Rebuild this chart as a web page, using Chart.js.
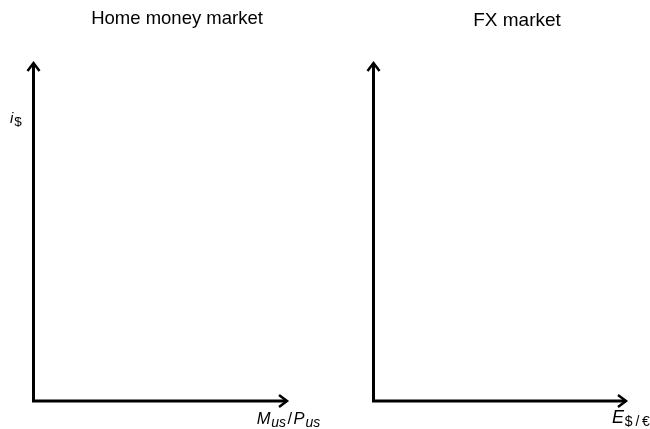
<!DOCTYPE html>
<html>
<head>
<meta charset="utf-8">
<script src="https://cdn.jsdelivr.net/npm/chart.js@4.4.1/dist/chart.umd.min.js"></script>
<style>
  html, body { margin:0; padding:0; background:#fff; width:650px; height:429px; overflow:hidden; position:relative; }
  canvas { position:absolute; top:0; }
</style>
</head>
<body>
<canvas id="c1" width="354" height="429" style="left:0px"></canvas>
<canvas id="c2" width="334" height="429" style="left:350px"></canvas>
<script>
// ---- chart content ----
const panelTitles = ["Home money market", "FX market"];
// label segments: [text, kind]  kind 0 = italic, 1 = italic subscript, 2 = upright operator, 3 = upright subscript
const xAxisLabels = [
  [["M",0],["us",1],["/",2],["P",0],["us",1]],
  [["E",0],["$\u2009/\u2009€",3]]
];
const yAxisLabels = [
  [["i",0],["$",3]],
  []
];
const xRange = [0, 10];
const yRange = [0, 10];
const seriesValues = [[], []];   // the diagrams are empty axes

const FONT = '"Liberation Sans", Arial, Helvetica, sans-serif';

function drawRich(ctx, segs, x, base, mainSize, subSize, subDrop) {
  let cx = x;
  ctx.textBaseline = 'alphabetic';
  ctx.textAlign = 'left';
  ctx.fillStyle = '#000';
  for (const [t, k] of segs) {
    let size = (k === 1 || k === 3) ? subSize : mainSize;
    let style = (k === 0 || k === 1) ? 'italic ' : '';
    ctx.font = style + size + 'px ' + FONT;
    let y = (k === 1 || k === 3) ? base + subDrop : base;
    if (k === 2) cx += 1.5;
    ctx.fillText(t, cx, y);
    cx += ctx.measureText(t).width;
    if (k === 2) cx += 1.5;
    if (k === 0) cx += 0.8;
  }
}

const axesPlugin = {
  id: 'axesArrows',
  afterDraw(chart, args, opts) {
    const ctx = chart.ctx;
    const xs = chart.scales.x, ys = chart.scales.y;
    const x0 = xs.getPixelForValue(xs.min), x1 = xs.getPixelForValue(xs.max);
    const y0 = ys.getPixelForValue(ys.min), y1 = ys.getPixelForValue(ys.max);
    ctx.save();
    ctx.strokeStyle = '#000';
    ctx.lineWidth = 3;
    ctx.lineJoin = 'miter';
    ctx.lineCap = 'butt';
    ctx.beginPath();
    ctx.moveTo(x0, y1 + 2);
    ctx.lineTo(x0, y0);
    ctx.lineTo(x1 - 2, y0);
    ctx.stroke();
    // arrow heads
    ctx.lineWidth = 2.5;
    ctx.beginPath();
    ctx.moveTo(x0 - 6, y1 + 10);
    ctx.lineTo(x0, y1 + 2);
    ctx.lineTo(x0 + 6, y1 + 10);
    ctx.stroke();
    ctx.beginPath();
    ctx.moveTo(x1 - 10, y0 - 6);
    ctx.lineTo(x1 - 2, y0);
    ctx.lineTo(x1 - 10, y0 + 6);
    ctx.stroke();
    // panel title
    const o = opts;
    ctx.fillStyle = '#000';
    ctx.font = o.titleSize + 'px ' + FONT;
    ctx.textAlign = 'center';
    ctx.textBaseline = 'alphabetic';
    ctx.fillText(o.title, x0 + 143.5, y1 + o.titleDy);
    // axis labels
    if (o.xLabel.length) drawRich(ctx, o.xLabel, x1 + o.xdx, y0 + o.xdy, o.xMain, o.xSub, 3);
    if (o.yLabel.length) drawRich(ctx, o.yLabel, x0 + o.ydx, y1 + o.ydy, 15, 13.5, 3);
    ctx.restore();
  }
};

function makeChart(id, i, geom) {
  return new Chart(document.getElementById(id), {
    type: 'line',
    data: { datasets: [{ data: seriesValues[i] }] },
    plugins: [axesPlugin],
    options: {
      responsive: false,
      animation: false,
      devicePixelRatio: 1,
      layout: { padding: geom.padding },
      scales: {
        x: { type: 'linear', min: xRange[0], max: xRange[1], display: false },
        y: { type: 'linear', min: yRange[0], max: yRange[1], display: false }
      },
      plugins: {
        legend: { display: false },
        tooltip: { enabled: false },
        title: { display: false },
        axesArrows: Object.assign({ title: panelTitles[i], xLabel: xAxisLabels[i], yLabel: yAxisLabels[i] }, geom.labels)
      }
    }
  });
}

makeChart('c1', 0, {
  padding: { left: 33.5, right: 65, top: 61, bottom: 28 },
  labels: { titleSize: 18.5, titleDy: -37, xdx: -32.3, xdy: 23, xMain: 16.5, xSub: 14, ydx: -23.5, ydy: 62 }
});
makeChart('c2', 1, {
  padding: { left: 23.5, right: 56, top: 61, bottom: 28 },
  labels: { titleSize: 19, titleDy: -35, xdx: -16, xdy: 22, xMain: 18, xSub: 14, ydx: -23.5, ydy: 62 }
});
</script>
</body>
</html>
